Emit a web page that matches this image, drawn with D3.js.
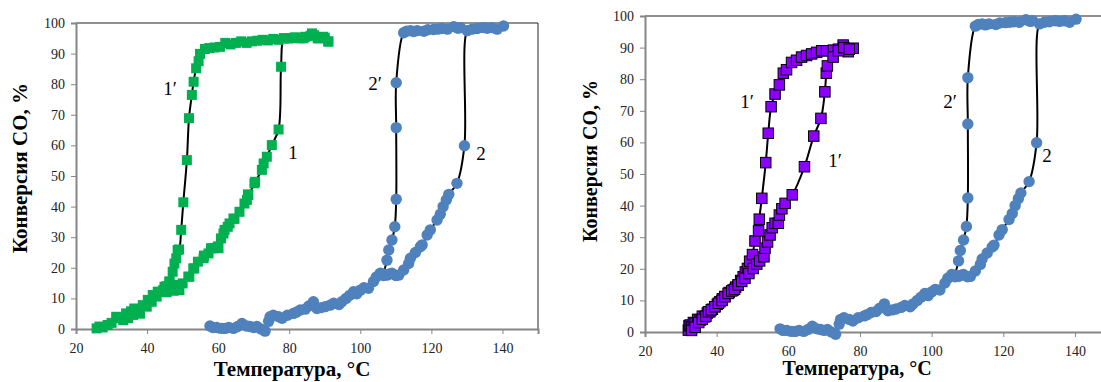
<!DOCTYPE html>
<html><head><meta charset="utf-8">
<script src="https://cdn.jsdelivr.net/npm/d3@7"></script>
<style>
body{margin:0;background:#fff;}
svg{display:block;}
</style></head>
<body>
<svg id="c" width="1101" height="382"></svg>
<script>
// ---------- DATA ----------
const xTicks = [20, 40, 60, 80, 100, 120, 140];
const yTicks = [0, 10, 20, 30, 40, 50, 60, 70, 80, 90, 100];
const xTitle = "Температура, °С";
const yTitle = "Конверсия СО, %";

// green, curve 1 (temperature, conversion)
const green1T = [25.8,26.6,27.5,28.9,30,31.3,31.5,33.3,34.1,34.7,35.5,36.1,36.4,37.1,38,38.8,39.9,40.2,41.3,41.6,42.7,43,44.6,44.9,45.5,46.3,47.5,48.4,49.1,50,51.6,51.9,53,53.3,54.3,55.9,56,57.3,58,58.7,59.9,60.1,60.8,61.5,61.8,62.7,63.2,64.3,64.6,66,67.4,68.1,68.4,68.5,70.2,70.4,72.3,72.8,73.7,75.1,77,77.7,78.5,80,82,84,86.4,88,89.5,91];
const green1V = [0.2,0.8,0.5,1.3,2,4,3.5,2.9,5.1,3.6,5.8,4.6,6.7,6.2,5,7.8,7.3,9.5,8.9,11.1,10.6,12.2,12.7,13.8,12,15.5,12.5,14.4,12.7,14.9,17.1,17.1,19.8,19.8,22,23.1,24,24.7,26.4,26.4,27,26.4,29.6,31.2,32.4,33.4,34.5,36.1,36,38.3,41,42.2,44,43.8,47.6,48.1,52,54.1,56.3,60.1,65.2,85.7,95,95,95.2,95,96.6,95,95.5,93.9];
// green, curve 1'
const green1pT = [44.5,45.5,46.3,47.2,47.7,48.2,48.6,49,49.6,50.2,51.2,51.8,52.6,53.1,53.8,54.5,54.9,56.3,57.5,59,60.5,62,63.5,65,66.5,68,69.5,71,72.5,74,75.5,77,78.5,80,81.5,83,84.5,86,87,88.5,90,91];
const green1pV = [12.5,14,15.5,18.7,21.4,23.1,25.8,26,32.4,41.4,55.2,68.9,76.5,80.8,85.2,87.5,89.9,91.5,91.8,92,92.2,93.5,93,93.5,94,93.5,94,94.2,94.5,94.3,94.8,94.5,95,95,95.3,95,95.5,95.8,96,95,95.2,94];

// blue, curve 2
const blue2T = [57.7,58.5,59.6,61,62,63,64.3,65.5,66.7,68,69,70,70.9,72,73.2,74.2,74.6,75.5,77,78,79.5,81.2,82,83.1,84.5,85.5,86.8,87.8,89,90.1,91.5,92.5,94,94.8,96,97,98.1,99,100,101,102.3,103.7,104.5,105.6,106.5,107.5,108.2,108.9,110,110.8,112.2,113.6,114.1,115.5,116.9,117.4,118.8,119.7,121.6,122.5,123.3,124.2,124.9,127.2,129.3,130.1,131.5,132.9,134.5,135.7,137,138.5,140.3];
const blue2V = [1,0.5,0.5,0.2,0.2,0.5,0.2,0.8,1.8,1,0.8,0.5,0.8,0,-0.7,2.5,4,4.5,4,3.5,4.5,5.1,5.5,6.2,6.5,7.5,8.9,6.7,7,7.3,7.8,8.4,8,8.9,10,11,12.2,11.5,12.7,13.5,13.3,15.5,17,18.2,17.5,17.6,18,18.2,17.5,17.6,19.3,21.4,23.1,25,26.9,27.5,30.7,32.4,35.6,37.5,40,42.2,44,47.6,59.9,97.5,98,98.2,98.5,98.3,98.5,98,99];
// blue, curve 2'
const blue2pT = [106.5,107.5,108,108.9,109.7,110.1,110.1,110.1,112.2,113,114.1,115,116,117.9,119,120.6,121.8,122.9,124.5,126.3,127.5,128.2];
const blue2pV = [18,22.5,25.8,29.1,33.4,42.4,65.8,80.5,96.8,97.3,97.5,97.2,97.5,97.3,97.8,97.9,98,98.2,98,98.8,98.3,98.5];

// purple, left curve 1'
const purpleAT = [32.1,32.3,32.6,33,33.5,34,34.7,35.4,36,36.7,37.4,38.1,38.8,39.5,40.2,40.9,41.6,42.3,43.5,44.6,45.3,46,46.7,47.4,48,48.6,49.2,50,50.7,51.7,51.9,52.6,53.7,54.4,55.2,56.3,57.5,58.6,59.5,60.9,62.3,63.7,65.1,66.5,67.9,69.3,70.7,72.6,74,75.3,76.7,78.1];
const purpleAV = [0.6,2,2.2,1.7,3,2.8,4,3.8,5,4.8,6,6.4,7.2,8,8.8,9.6,10.5,11.2,12.5,13.3,14.2,14.9,16.3,17.5,19,20.1,22.4,24.5,28.8,32,35.7,42.3,53.6,62.9,71.3,75.3,78.2,81.9,83,85.3,86,87,87.5,88,88.5,89,89,89.2,89.5,90.8,88.7,89.8];
// purple, right curve 1'
const purpleBT = [33,34,35,36,37,37.7,38.5,39.5,40.5,41.5,42.3,43.2,44.2,45,46,47,47.9,49,50.2,51.2,52,53.2,53.5,54.2,54.9,55.5,56.3,57.2,57.5,58.2,59.1,61.1,64.5,67.1,69.1,70.2,70.6,70.9,72.5,74,75.5,77];
const purpleBV = [0.5,1.5,3,4,5,6.4,7,8,9.1,10,11.2,12.2,13,13.5,14.9,16,17,18.5,20.1,21.5,22.5,23.8,26.5,28.5,30.7,33,34.4,34.4,37,39,40.7,43.4,52.3,62,67.6,76,81.9,84.2,87,89,90,89.5];

const GREEN = "#00B050", BLUE = "#4F81BD", PURPLE = "#8B00FF";
const SERIF = "'Liberation Serif', 'Times New Roman', serif";

// ---------- DRAW ----------
const svg = d3.select("#c");
const zip = (T, V) => T.map((t, i) => [t, V[i]]);

function panel(cfg) {
  const x = d3.scaleLinear().domain([20, 150]).range([cfg.x0, cfg.x1]);
  const y = d3.scaleLinear().domain([0, 100]).range([cfg.yb, cfg.yt]);
  const g = svg.append("g");
  g.append("path")
    .attr("d", `M${cfg.x0},${cfg.yt}H${x(150)}V${cfg.yb}`)
    .attr("fill", "none").attr("stroke", "#222").attr("stroke-width", 1);
  const ax = g.append("g").attr("transform", `translate(0,${cfg.yb})`)
    .call(d3.axisBottom(x).tickValues(xTicks).tickSize(5).tickPadding(6).tickFormat(d3.format("d")));
  const ay = g.append("g").attr("transform", `translate(${cfg.x0},0)`)
    .call(d3.axisLeft(y).tickValues(yTicks).tickSize(5).tickPadding(6).tickFormat(d3.format("d")));
  [ax, ay].forEach(a => {
    a.attr("font-family", SERIF).attr("font-size", 14);
    a.select(".domain").attr("stroke", "#868686").attr("stroke-width", 2);
    a.selectAll(".tick line").attr("stroke", "#868686").attr("stroke-width", 1);
    a.selectAll(".tick text").style("font-family", SERIF).style("font-size", "14px").attr("fill", "#222");
  });
  ax.selectAll(".tick text").attr("dy", "0.9em");

  const line = d3.line().x(d => x(d[0])).y(d => y(d[1])).curve(d3.curveCatmullRom.alpha(0.5));
  const plot = g.append("g");
  cfg.series.forEach(s => {
    const pts = zip(s.t, s.v);
    plot.append("path").attr("d", line(pts)).attr("fill", "none")
      .attr("stroke", "#000").attr("stroke-width", 2);
    if (s.shape === "circle") {
      plot.selectAll(null).data(pts).enter().append("circle")
        .attr("cx", d => x(d[0])).attr("cy", d => y(d[1])).attr("r", 5.7)
        .attr("fill", s.color);
    } else {
      const sz = s.size;
      plot.selectAll(null).data(pts).enter().append("rect")
        .attr("x", d => x(d[0]) - sz / 2).attr("y", d => y(d[1]) - sz / 2)
        .attr("width", sz).attr("height", sz)
        .attr("fill", s.color)
        .attr("stroke", s.stroke || "none").attr("stroke-width", 1);
    }
  });
  cfg.labels.forEach(l => {
    g.append("text").attr("x", l.x).attr("y", l.y).attr("text-anchor", "middle")
      .style("font-family", SERIF)
      .attr("font-size", 19).attr("fill", "#000").text(l.text);
  });
  g.append("text").attr("x", cfg.xtx).attr("y", cfg.xty).attr("text-anchor", "middle")
    .style("font-family", SERIF)
    .attr("font-weight", "bold").attr("font-size", cfg.tfs).text(xTitle);
  g.append("text").attr("transform", `translate(${cfg.ytx},${cfg.yty}) rotate(-90)`)
    .attr("text-anchor", "middle").attr("dy", "0.35em")
    .style("font-family", SERIF)
    .attr("font-weight", "bold").attr("font-size", cfg.tfs).text(yTitle);
}

panel({
  x0: 76, x1: 538, yt: 23, yb: 329,
  xtx: 292, xty: 376, ytx: 20, yty: 168, tfs: 21,
  series: [
    {t: green1T, v: green1V, color: GREEN, shape: "rect", size: 10},
    {t: green1pT, v: green1pV, color: GREEN, shape: "rect", size: 10},
    {t: blue2T, v: blue2V, color: BLUE, shape: "circle"},
    {t: blue2pT, v: blue2pV, color: BLUE, shape: "circle"}
  ],
  labels: [
    {x: 170, y: 95, text: "1′"}, {x: 293, y: 159, text: "1"},
    {x: 375, y: 90, text: "2′"}, {x: 481, y: 160, text: "2"}
  ]
});

panel({
  x0: 645, x1: 1110.8, yt: 16, yb: 332,
  xtx: 857, xty: 375, ytx: 590, yty: 161, tfs: 20,
  series: [
    {t: purpleAT, v: purpleAV, color: PURPLE, shape: "rect", size: 10.5, stroke: "#000"},
    {t: purpleBT, v: purpleBV, color: PURPLE, shape: "rect", size: 10.5, stroke: "#000"},
    {t: blue2T, v: blue2V, color: BLUE, shape: "circle"},
    {t: blue2pT, v: blue2pV, color: BLUE, shape: "circle"}
  ],
  labels: [
    {x: 747, y: 108, text: "1′"}, {x: 835, y: 167, text: "1′"},
    {x: 950, y: 108, text: "2′"}, {x: 1047, y: 162, text: "2"}
  ]
});
</script>
</body></html>
